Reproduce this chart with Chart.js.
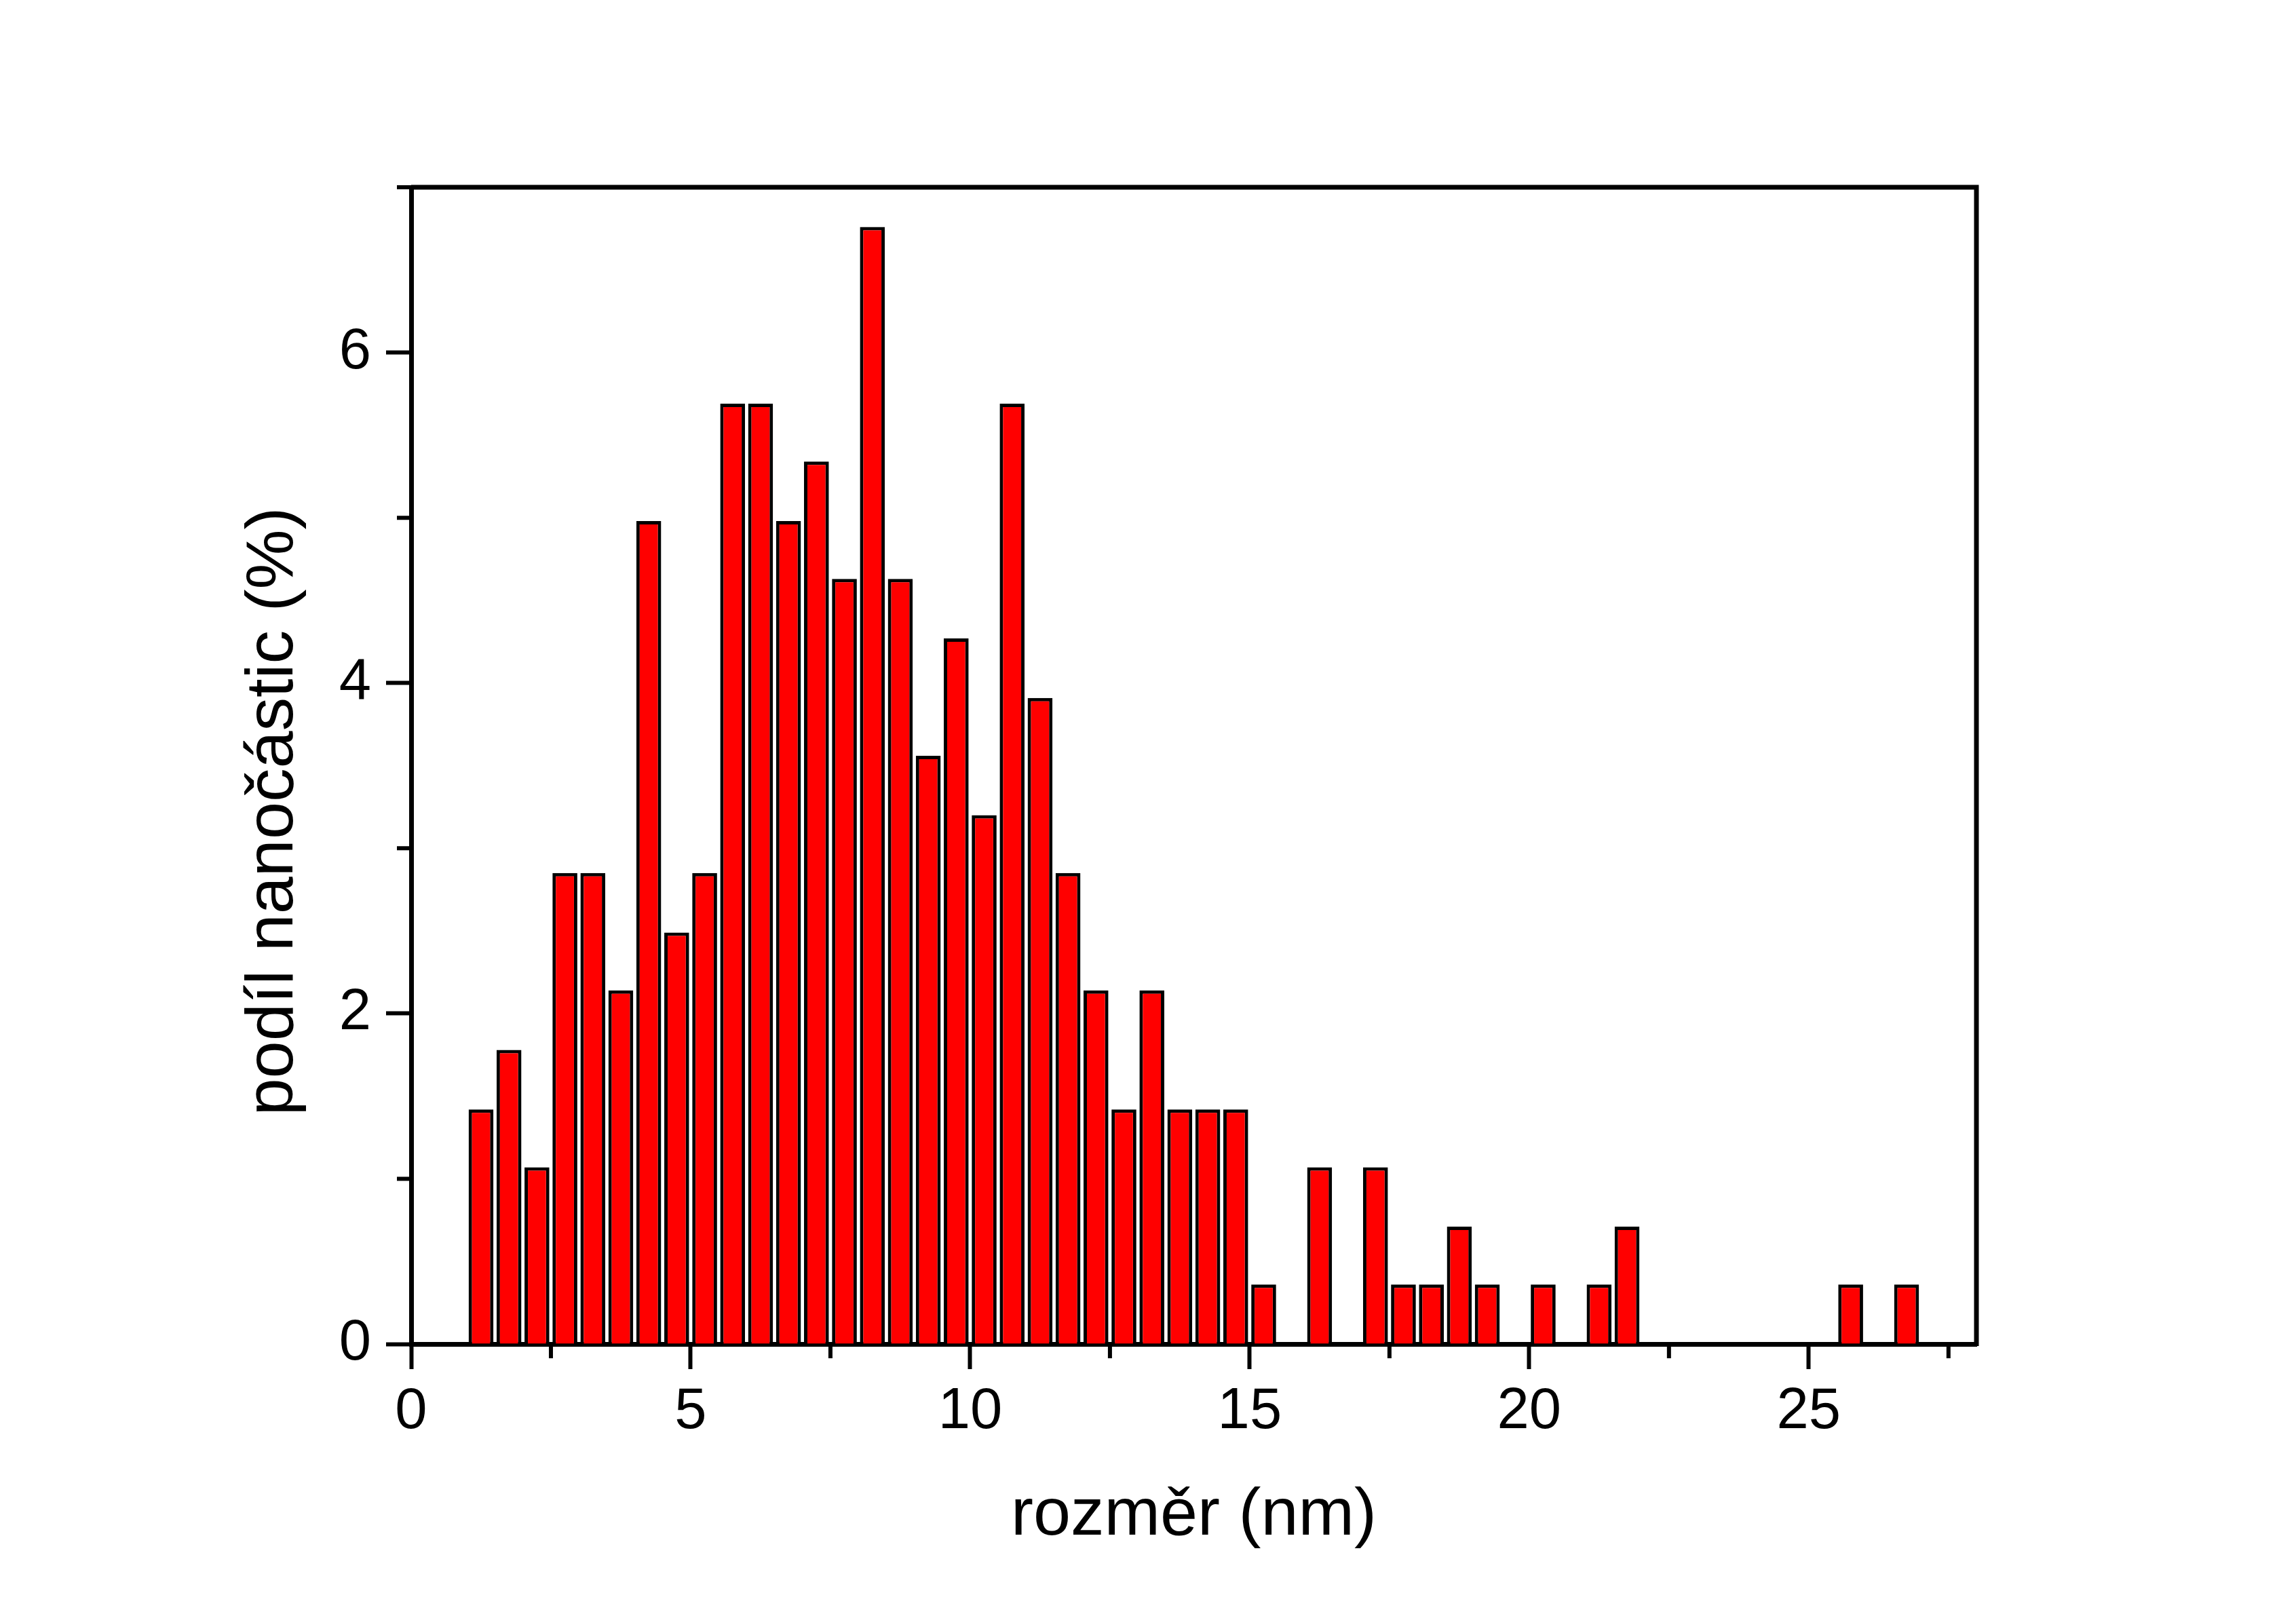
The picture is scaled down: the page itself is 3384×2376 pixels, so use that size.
<!DOCTYPE html>
<html>
<head>
<meta charset="utf-8">
<script src="https://cdn.jsdelivr.net/npm/chart.js@4.4.0/dist/chart.umd.min.js"></script>
<style>
  html, body { margin: 0; padding: 0; background: #fff; }
  #wrap { width: 3384px; height: 2376px; }
</style>
</head>
<body>
<div id="wrap"><canvas id="histChart" width="3384" height="2376"></canvas></div>
<script>
// bin centres in nm (bins 0.5 nm wide)
var sizes = [1.25, 1.75, 2.25, 2.75, 3.25, 3.75, 4.25, 4.75, 5.25, 5.75,
             6.25, 6.75, 7.25, 7.75, 8.25, 8.75, 9.25, 9.75, 10.25, 10.75,
             11.25, 11.75, 12.25, 12.75, 13.25, 13.75, 14.25, 14.75, 15.25, 15.75,
             16.25, 16.75, 17.25, 17.75, 18.25, 18.75, 19.25, 19.75, 20.25, 20.75,
             21.25, 21.75, 22.25, 22.75, 23.25, 23.75, 24.25, 24.75, 25.25, 25.75,
             26.25, 26.75];
// share of nanoparticles in %
var shares = [1.42, 1.78, 1.07, 2.85, 2.85, 2.14, 4.98, 2.49, 2.85, 5.69,
              5.69, 4.98, 5.34, 4.63, 6.76, 4.63, 3.56, 4.27, 3.20, 5.69,
              3.91, 2.85, 2.14, 1.42, 2.14, 1.42, 1.42, 1.42, 0.36, 0,
              1.07, 0, 1.07, 0.36, 0.36, 0.71, 0.36, 0, 0.36, 0,
              0.36, 0.71, 0, 0, 0, 0, 0, 0, 0, 0.36,
              0, 0.36];
var xTicks = [0, 5, 10, 15, 20, 25];
var xMinorTicks = [2.5, 7.5, 12.5, 17.5, 22.5, 27.5];
var yTicks = [0, 2, 4, 6];
var yMinorTicks = [1, 3, 5, 7];
var xTitle = 'rozměr (nm)';
var yTitle = 'podíl nanočástic (%)';

var FONT = '"Liberation Sans", Arial, sans-serif';

// top/right frame, minor ticks and the y title
var frameAndMinor = {
    id: 'frameAndMinor',
    afterDraw: function(chart) {
        var ctx = chart.ctx, a = chart.chartArea;
        var xs = chart.scales.x, ys = chart.scales.y;
        ctx.save();
        ctx.strokeStyle = '#000';
        ctx.lineWidth = 7;
        ctx.beginPath();
        ctx.moveTo(a.left, a.top);
        ctx.lineTo(a.right, a.top);
        ctx.lineTo(a.right, a.bottom + 3);
        ctx.stroke();

        ctx.lineWidth = 6;
        ctx.beginPath();
        xMinorTicks.forEach(function(v) {
            var px = xs.getPixelForValue(v);
            ctx.moveTo(px, a.bottom);
            ctx.lineTo(px, a.bottom + 21);
        });
        yMinorTicks.forEach(function(v) {
            var py = ys.getPixelForValue(v);
            ctx.moveTo(a.left, py);
            ctx.lineTo(a.left - 21, py);
        });
        ctx.stroke();

        ctx.fillStyle = '#000';
        ctx.font = '99px ' + FONT;
        ctx.translate(431, 1196);
        ctx.rotate(-Math.PI / 2);
        ctx.textAlign = 'center';
        ctx.textBaseline = 'alphabetic';
        ctx.fillText(yTitle, 0, 0);
        ctx.restore();
    }
};

var points = sizes.map(function(s, i) { return { x: s, y: shares[i] }; });

var ctx = document.getElementById('histChart').getContext('2d');
var histChart = new Chart(ctx, {
    type: 'bar',
    data: {
        datasets: [{
            data: points,
            backgroundColor: '#FF0000',
            borderColor: '#000000',
            borderWidth: 5,
            borderSkipped: 'start',
            barPercentage: 0.89,
            categoryPercentage: 1.0
        }]
    },
    options: {
        responsive: false,
        animation: false,
        events: [],
        layout: { padding: { left: 0, top: 276, right: 471, bottom: 0 } },
        plugins: { legend: { display: false }, tooltip: { enabled: false } },
        scales: {
            x: {
                type: 'linear',
                min: 0,
                max: 28,
                offset: false,
                afterBuildTicks: function(s) { s.ticks = xTicks.map(function(v) { return { value: v }; }); },
                afterFit: function(s) { s.height = 395; },
                grid: { offset: false, drawOnChartArea: false, drawTicks: true, tickLength: 37, tickWidth: 6, tickColor: '#000' },
                border: { display: true, color: '#000', width: 7 },
                ticks: { color: '#000', padding: 13, maxRotation: 0, autoSkip: false, font: { family: FONT, size: 85 } },
                title: { display: true, text: xTitle, color: '#000', font: { family: FONT, size: 99 }, padding: { top: 0, bottom: 82 } }
            },
            y: {
                min: 0,
                max: 7,
                afterBuildTicks: function(s) { s.ticks = yTicks.map(function(v) { return { value: v }; }); },
                afterFit: function(s) { s.width = 606; },
                grid: { drawOnChartArea: false, drawTicks: true, tickLength: 37, tickWidth: 6, tickColor: '#000' },
                border: { display: true, color: '#000', width: 7 },
                ticks: { color: '#000', padding: 22, font: { family: FONT, size: 85 } },
                title: { display: false }
            }
        }
    },
    plugins: [frameAndMinor]
});
</script>
</body>
</html>
